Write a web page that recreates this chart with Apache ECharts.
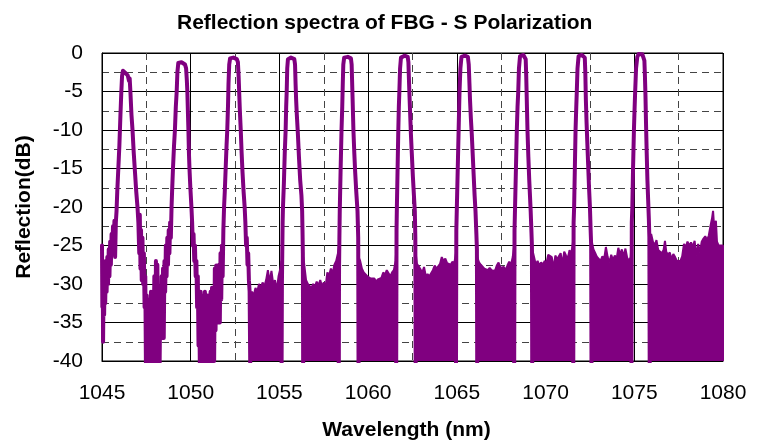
<!DOCTYPE html>
<html>
<head>
<meta charset="utf-8">
<script src="https://cdn.jsdelivr.net/npm/echarts@6/dist/echarts.min.js"></script>
<style>html,body{margin:0;padding:0;background:#fff}#chart{width:763px;height:446px}</style>
</head>
<body>
<div id="chart"></div>
<script>
// ---- data: [wavelength nm, reflection dB] ----
var xTicks = [1045, 1050, 1055, 1060, 1065, 1070, 1075, 1080];
var yTicks = [-40, -35, -30, -25, -20, -15, -10, -5, 0];

var floorLeft = [[1045.00,-25],[1045.02,-33],[1045.04,-27],[1045.06,-37.5],[1045.09,-30],[1045.12,-34],[1045.15,-28],[1045.18,-32.5],[1045.22,-27],[1045.26,-31],[1045.30,-26.5],[1045.34,-30],[1045.38,-25.5],[1045.42,-29],[1045.46,-24.5],[1045.50,-27.5],[1045.54,-23.5],[1045.58,-26],[1045.62,-22.5],[1045.66,-25],[1045.70,-21.8],[1045.74,-26.5],[1045.78,-22],[1045.82,-20.5]];

var peak1 = [[1045.86,-18],[1045.92,-15],[1045.98,-12],[1046.04,-8],[1046.09,-5],[1046.13,-3],[1046.18,-2.3],[1046.25,-2.2],[1046.32,-2.6],[1046.38,-2.4],[1046.45,-2.9],[1046.52,-3.6],[1046.56,-3.3],[1046.60,-5],[1046.66,-8],[1046.72,-10],[1046.79,-13],[1046.86,-15.5],[1046.93,-18],[1047.00,-20],[1047.05,-22]];

var gap1 = [[1047.10,-26],[1047.13,-21],[1047.17,-28],[1047.20,-23],[1047.24,-29.5],[1047.28,-24],[1047.32,-30],[1047.36,-26],[1047.40,-33],[1047.44,-29],[1047.48,-42],[1047.52,-31.5],[1047.56,-42],[1047.60,-32],[1047.64,-42],[1047.68,-33],[1047.72,-42],[1047.76,-31],[1047.80,-42],[1047.85,-34],[1047.90,-39],[1047.95,-29],[1048.00,-42],[1048.04,-27],[1048.08,-38],[1048.12,-27.5],[1048.16,-42],[1048.20,-32],[1048.24,-42],[1048.28,-33],[1048.32,-37],[1048.36,-29],[1048.40,-34],[1048.44,-28],[1048.48,-37],[1048.52,-27],[1048.56,-31],[1048.60,-25],[1048.64,-29],[1048.68,-24],[1048.72,-27.5],[1048.76,-23],[1048.80,-26],[1048.84,-22],[1048.88,-24],[1048.92,-20]];

var peak2 = [[1048.95,-18],[1049.00,-15],[1049.06,-12],[1049.11,-10],[1049.16,-7],[1049.21,-5],[1049.25,-2.5],[1049.30,-1.3],[1049.38,-1.1],[1049.48,-1.2],[1049.58,-1.4],[1049.68,-1.5],[1049.74,-2],[1049.78,-3.5],[1049.81,-5],[1049.84,-7.5],[1049.87,-10],[1049.90,-13],[1049.93,-15],[1049.98,-17.5],[1050.04,-20],[1050.08,-22]];

var gap2 = [[1050.12,-25],[1050.16,-23.5],[1050.20,-27],[1050.24,-25],[1050.28,-29],[1050.32,-27],[1050.36,-33],[1050.40,-29],[1050.44,-38],[1050.48,-32],[1050.52,-42],[1050.56,-31],[1050.60,-42],[1050.64,-31.5],[1050.68,-42],[1050.72,-32],[1050.76,-42],[1050.80,-31],[1050.84,-42],[1050.88,-32],[1050.92,-42],[1050.96,-31.5],[1051.00,-42],[1051.04,-32],[1051.08,-42],[1051.12,-31],[1051.16,-42],[1051.20,-30.5],[1051.24,-42],[1051.28,-31],[1051.32,-40],[1051.36,-28],[1051.40,-36],[1051.44,-27.6],[1051.48,-35],[1051.52,-28],[1051.56,-34.5],[1051.60,-27.5],[1051.64,-35],[1051.68,-26],[1051.72,-32],[1051.76,-25],[1051.80,-29],[1051.84,-23],[1051.88,-20]];

var peak3 = [[1051.92,-18],[1051.97,-15],[1052.02,-12],[1052.06,-10],[1052.10,-7],[1052.13,-4],[1052.17,-1.5],[1052.22,-0.7],[1052.30,-0.6],[1052.40,-0.6],[1052.50,-0.7],[1052.60,-0.8],[1052.66,-1.2],[1052.70,-3],[1052.73,-5],[1052.77,-7.5],[1052.82,-10],[1052.87,-13],[1052.92,-15.5],[1052.98,-18],[1053.04,-20],[1053.08,-22],[1053.12,-25],[1053.16,-24],[1053.20,-27.5],[1053.24,-26],[1053.28,-29.5],[1053.32,-31],[1053.36,-42]];

var peak4 = [[1055.12,-42],[1055.14,-30],[1055.16,-26],[1055.18,-22],[1055.20,-20],[1055.25,-17],[1055.30,-13],[1055.35,-10],[1055.38,-7],[1055.41,-5],[1055.44,-2],[1055.48,-0.8],[1055.55,-0.6],[1055.65,-0.6],[1055.75,-0.7],[1055.84,-0.8],[1055.88,-1.5],[1055.91,-4],[1055.94,-6],[1055.98,-8],[1056.04,-10.5],[1056.10,-13.5],[1056.17,-16.5],[1056.24,-18.5],[1056.28,-20.5],[1056.30,-23],[1056.32,-26],[1056.34,-42]];

var peak5 = [[1058.34,-42],[1058.36,-28],[1058.38,-24],[1058.40,-20.5],[1058.45,-15],[1058.50,-10],[1058.54,-7],[1058.57,-4],[1058.60,-1.5],[1058.65,-0.6],[1058.75,-0.5],[1058.85,-0.5],[1058.95,-0.5],[1059.03,-0.7],[1059.07,-1.5],[1059.10,-4],[1059.13,-6.5],[1059.17,-10],[1059.22,-13],[1059.27,-15.5],[1059.33,-18],[1059.40,-20.5],[1059.44,-24],[1059.46,-42]];

var peak6 = [[1061.58,-42],[1061.60,-23],[1061.62,-20],[1061.66,-15],[1061.70,-10],[1061.73,-7],[1061.76,-5],[1061.80,-2],[1061.85,-0.6],[1061.95,-0.4],[1062.05,-0.35],[1062.15,-0.4],[1062.23,-0.5],[1062.27,-1.2],[1062.30,-3.5],[1062.33,-5.5],[1062.37,-8],[1062.41,-10.5],[1062.46,-13],[1062.52,-16],[1062.58,-18.5],[1062.63,-20.5],[1062.66,-24],[1062.68,-42]];

var peak7 = [[1064.95,-42],[1064.97,-23],[1065.00,-20],[1065.05,-15],[1065.10,-10],[1065.13,-7],[1065.15,-5],[1065.20,-2],[1065.26,-0.5],[1065.35,-0.35],[1065.45,-0.35],[1065.55,-0.4],[1065.62,-0.5],[1065.67,-1.5],[1065.71,-4],[1065.74,-6],[1065.79,-8.5],[1065.84,-10.5],[1065.90,-13.5],[1065.95,-16],[1066.00,-18.5],[1066.05,-20.5],[1066.10,-23.5],[1066.13,-25.5],[1066.15,-42]];

var peak8 = [[1068.23,-42],[1068.25,-23],[1068.28,-20],[1068.33,-15],[1068.38,-10],[1068.42,-7],[1068.46,-5],[1068.50,-2],[1068.56,-0.4],[1068.65,-0.26],[1068.75,-0.26],[1068.83,-0.3],[1068.88,-0.8],[1068.91,-3],[1068.94,-6],[1068.98,-10],[1069.03,-13.5],[1069.08,-16.5],[1069.12,-18.5],[1069.16,-20.5],[1069.20,-23],[1069.23,-25],[1069.25,-42]];

var peak9 = [[1071.56,-42],[1071.58,-22],[1071.61,-20],[1071.65,-15],[1071.69,-10],[1071.73,-7],[1071.76,-5],[1071.80,-2],[1071.86,-0.4],[1071.95,-0.26],[1072.05,-0.26],[1072.15,-0.3],[1072.21,-0.6],[1072.24,-2.5],[1072.27,-6],[1072.31,-9],[1072.35,-11.5],[1072.40,-14.5],[1072.45,-17.5],[1072.50,-20],[1072.54,-23],[1072.57,-25],[1072.59,-42]];

var peak10 = [[1074.84,-42],[1074.86,-22],[1074.89,-20],[1074.93,-15],[1074.98,-10],[1075.02,-7],[1075.05,-5],[1075.10,-2],[1075.17,-0.5],[1075.25,-0.13],[1075.35,-0.1],[1075.45,-0.15],[1075.53,-0.3],[1075.57,-1],[1075.60,-3],[1075.63,-5.5],[1075.66,-9],[1075.70,-13],[1075.74,-16.5],[1075.78,-19],[1075.82,-21.5],[1075.85,-24],[1075.87,-42]];

// dense noise floor between the peaks: upper envelope, filled down to -40 dB
var bandD = [[1053.34,-40],[1053.36,-31.5],[1053.45,-31],[1053.55,-31.5],[1053.65,-30.5],[1053.75,-31],[1053.85,-30],[1053.95,-30.5],[1054.05,-29.8],[1054.15,-30.3],[1054.25,-29.5],[1054.35,-28.2],[1054.45,-29.8],[1054.55,-28.3],[1054.65,-30],[1054.75,-29.5],[1054.85,-30.8],[1054.95,-29],[1055.05,-28],[1055.12,-27],[1055.14,-40]];
var bandE = [[1056.32,-40],[1056.34,-26.5],[1056.40,-27.5],[1056.50,-29.5],[1056.60,-30],[1056.70,-29.8],[1056.80,-30.5],[1056.90,-30],[1057.00,-30.3],[1057.10,-29.7],[1057.20,-30.2],[1057.30,-29.5],[1057.40,-30.3],[1057.50,-29.8],[1057.60,-30.4],[1057.70,-28.5],[1057.80,-28.9],[1057.90,-28],[1058.00,-28.6],[1058.10,-27.5],[1058.20,-27],[1058.30,-26],[1058.36,-25],[1058.38,-40]];
var bandF = [[1059.44,-40],[1059.46,-26.5],[1059.55,-27],[1059.65,-28],[1059.75,-28.5],[1059.85,-28.3],[1059.95,-29],[1060.05,-28.8],[1060.15,-29.3],[1060.25,-29.5],[1060.35,-29.3],[1060.45,-29.7],[1060.55,-29.4],[1060.65,-29.6],[1060.75,-29.2],[1060.85,-28.5],[1060.95,-28.8],[1061.05,-28.2],[1061.15,-28.4],[1061.25,-29],[1061.35,-28.5],[1061.45,-28.2],[1061.55,-27],[1061.60,-25],[1061.62,-40]];
var bandG = [[1062.66,-40],[1062.68,-26],[1062.75,-27.4],[1062.85,-27.7],[1062.95,-27.6],[1063.05,-28.5],[1063.15,-27.8],[1063.25,-29],[1063.35,-28.7],[1063.45,-29],[1063.55,-28.8],[1063.65,-28.2],[1063.75,-27.6],[1063.85,-28],[1063.95,-27.7],[1064.05,-27.4],[1064.15,-26.5],[1064.25,-27],[1064.35,-26.7],[1064.45,-27.3],[1064.55,-27.2],[1064.65,-27.5],[1064.75,-27.1],[1064.85,-27.4],[1064.95,-26],[1064.97,-40]];
var bandH = [[1066.13,-40],[1066.15,-26.5],[1066.25,-27.2],[1066.35,-27.5],[1066.45,-27.7],[1066.55,-28],[1066.65,-27.8],[1066.75,-28.2],[1066.85,-27.9],[1066.95,-28.2],[1067.05,-28],[1067.15,-28.3],[1067.25,-27.6],[1067.35,-27.2],[1067.45,-27.9],[1067.55,-28.1],[1067.65,-27.8],[1067.75,-28.2],[1067.85,-27.6],[1067.95,-27.1],[1068.05,-27.5],[1068.15,-26.5],[1068.23,-25],[1068.25,-40]];
var bandI = [[1069.23,-40],[1069.25,-25.5],[1069.35,-26.5],[1069.45,-27.5],[1069.55,-27],[1069.65,-27.6],[1069.75,-27.2],[1069.85,-27.5],[1069.95,-27],[1070.05,-27.3],[1070.15,-26.2],[1070.25,-26],[1070.35,-26.5],[1070.45,-28],[1070.55,-26.3],[1070.65,-26.8],[1070.75,-26.4],[1070.85,-26],[1070.95,-27.5],[1071.05,-25.8],[1071.15,-26.3],[1071.25,-26.7],[1071.35,-25.6],[1071.45,-26.2],[1071.55,-24.5],[1071.58,-40]];
var bandJ = [[1072.57,-40],[1072.60,-24.5],[1072.70,-25.5],[1072.80,-26],[1072.90,-26.5],[1073.00,-26.3],[1073.10,-27],[1073.20,-26.4],[1073.30,-26.8],[1073.40,-25.2],[1073.50,-26.5],[1073.60,-27.2],[1073.70,-26.2],[1073.80,-26.9],[1073.90,-26.3],[1074.00,-26.8],[1074.10,-25.3],[1074.20,-26.2],[1074.30,-25.5],[1074.40,-26.5],[1074.50,-25.4],[1074.60,-26.6],[1074.70,-27],[1074.80,-26.5],[1074.84,-25],[1074.86,-40]];
var bandK = [[1075.85,-40],[1075.88,-24],[1075.95,-23.5],[1076.05,-24.5],[1076.15,-25],[1076.25,-24.3],[1076.35,-25.6],[1076.45,-25.4],[1076.55,-26],[1076.65,-25.6],[1076.73,-24.4],[1076.80,-25.8],[1076.90,-26.2],[1077.00,-25.9],[1077.10,-26.8],[1077.20,-26.1],[1077.30,-26.5],[1077.40,-27],[1077.50,-26.8],[1077.60,-27],[1077.70,-26.4],[1077.80,-24.8],[1077.90,-25.2],[1078.00,-24.5],[1078.10,-25],[1078.20,-24.6],[1078.30,-25.2],[1078.40,-24.4],[1078.50,-26.3],[1078.60,-24.8],[1078.70,-25.9],[1078.80,-24.5],[1078.90,-24.1],[1079.00,-23.8],[1079.10,-24.3],[1079.20,-23.7],[1079.30,-22.4],[1079.38,-21.5],[1079.44,-20.5],[1079.50,-22.6],[1079.60,-21.8],[1079.66,-24.5],[1079.75,-25],[1079.85,-25.2],[1080.00,-25],[1080.00,-40]];

// ---- build chart ----
var PURPLE = '#800080';
var FONT = 'Liberation Sans, Arial, Helvetica, sans-serif';
var trace = [].concat(floorLeft, peak1, gap1, peak2, gap2, peak3, peak4, peak5, peak6, peak7, peak8, peak9, peak10);
var bands = [bandD, bandE, bandF, bandG, bandH, bandI, bandJ, bandK];

var series = bands.map(function (b) {
  return {
    type: 'line', data: b, showSymbol: false, clip: true, silent: true,
    lineStyle: { color: PURPLE, width: 2 },
    areaStyle: { color: PURPLE, opacity: 1, origin: 'start' },
    z: 2
  };
});
series.push({
  type: 'line', data: trace, showSymbol: false, clip: true, silent: true,
  lineStyle: { color: PURPLE, width: 4, join: 'round', cap: 'round' },
  z: 3
});

var chart = echarts.init(document.getElementById('chart'), null, { renderer: 'canvas' });
chart.setOption({
  animation: false,
  backgroundColor: '#fff',
  title: {
    text: 'Reflection spectra of FBG - S Polarization',
    left: 172, top: 8,
    textStyle: { fontSize: 21, fontWeight: 'bold', color: '#000', fontFamily: FONT }
  },
  grid: { left: 102, right: 40, top: 53, bottom: 83, show: true, borderColor: '#000', borderWidth: 1, backgroundColor: 'transparent' },
  xAxis: {
    type: 'value', min: xTicks[0], max: xTicks[xTicks.length - 1], interval: 5,
    name: 'Wavelength (nm)', nameLocation: 'middle', nameGap: 59,
    nameTextStyle: { fontSize: 21, fontWeight: 'bold', color: '#000', fontFamily: FONT, padding: [0, 12, 0, 0] },
    axisLine: { show: true, onZero: false, lineStyle: { color: '#000', width: 1 } },
    axisTick: { show: false },
    axisLabel: { fontSize: 21, color: '#000', margin: 22, fontFamily: FONT, formatter: function (v) { return String(v); } },
    splitLine: { show: true, lineStyle: { color: '#000', width: 1 } },
    minorTick: { show: false, splitNumber: 2 },
    minorSplitLine: { show: true, lineStyle: { color: '#444', width: 1, type: [7, 5] } }
  },
  yAxis: {
    type: 'value', min: yTicks[0], max: yTicks[yTicks.length - 1], interval: 5,
    name: 'Reflection(dB)', nameLocation: 'middle', nameGap: 67, nameRotate: 90,
    nameTextStyle: { fontSize: 21, fontWeight: 'bold', color: '#000', fontFamily: FONT },
    axisLine: { show: true, onZero: false, lineStyle: { color: '#000', width: 1 } },
    axisTick: { show: false },
    axisLabel: { fontSize: 21, color: '#000', margin: 19, fontFamily: FONT, formatter: function (v) { return String(v); } },
    splitLine: { show: true, lineStyle: { color: '#000', width: 1 } },
    minorTick: { show: false, splitNumber: 2 },
    minorSplitLine: { show: true, lineStyle: { color: '#444', width: 1, type: [7, 5] } }
  },
  series: series
});
</script>
</body>
</html>
